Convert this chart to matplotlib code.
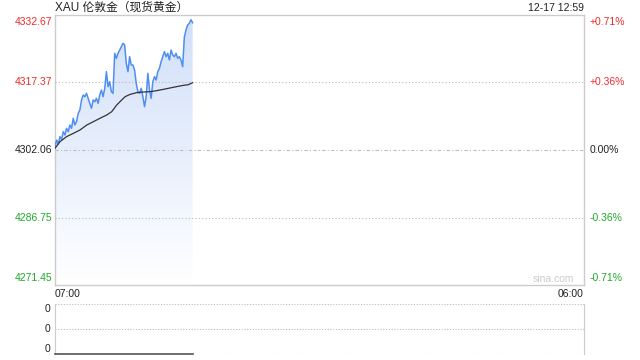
import matplotlib
matplotlib.use("Agg")
import matplotlib.pyplot as plt
import numpy as np
from matplotlib.colors import LinearSegmentedColormap
from matplotlib.transforms import blended_transform_factory

plt.rcParams['font.family'] = ['Liberation Sans', 'Noto Sans CJK SC', 'DejaVu Sans']

# --- data (minutes after 07:00) ---
prev_close = 4302.06
y_ticks = [4332.67, 4317.37, 4302.06, 4286.75, 4271.45]
pct_labels = ["+0.71%", "+0.36%", "0.00%", "-0.36%", "-0.71%"]
price = [
    4302.81, 4304.33, 4303.42, 4305.08, 4304.48, 4306.22, 4305.46, 4306.97,
    4306.22, 4307.73, 4306.97, 4309.24, 4307.73, 4308.48, 4310.37, 4311.13,
    4313.40, 4314.53, 4314.15, 4314.91, 4313.77, 4312.64, 4311.51, 4313.40,
    4313.02, 4313.77, 4312.64, 4314.53, 4315.66, 4314.15, 4316.04, 4319.82,
    4316.42, 4317.55, 4315.29, 4314.91, 4323.98, 4322.84, 4323.98, 4324.73,
    4325.49, 4326.25, 4325.87, 4321.71, 4319.82, 4323.22, 4321.33, 4321.33,
    4320.20, 4317.18, 4315.29, 4314.91, 4316.04, 4314.15, 4311.88, 4314.15,
    4319.44, 4315.66, 4313.77, 4317.55, 4318.69, 4317.93, 4319.82, 4320.58,
    4322.09, 4323.22, 4324.36, 4323.22, 4323.98, 4322.47, 4324.73, 4323.60,
    4323.22, 4323.98, 4322.84, 4323.22, 4322.47, 4320.95, 4327.60, 4329.27,
    4330.40, 4330.78, 4331.60, 4330.90,
]
price_t = np.linspace(0, 359, len(price))
avg_t = [0, 13, 30, 48, 65, 83, 100, 117, 135, 148, 161, 174, 183, 196,
         213, 230, 248, 265, 283, 300, 317, 335, 348, 359]
avg = [4302.44, 4303.95, 4305.08, 4305.84, 4306.59, 4307.73, 4308.48, 4309.24,
       4310.00, 4310.75, 4312.26, 4313.40, 4314.15, 4314.68, 4315.06, 4315.21,
       4315.29, 4315.51, 4315.82, 4316.12, 4316.42, 4316.72, 4316.87, 4317.33]
volume = np.zeros(len(price))
total_minutes = 1380

RED = "#ee2b2b"
GREEN = "#1ea82a"
BORDER = "#cccccc"

fig = plt.figure(figsize=(6.4, 3.6), dpi=100)
ax = fig.add_axes([55 / 640, 1 - 285 / 360, 529 / 640, 270 / 360])
vax = fig.add_axes([55 / 640, 1 - 354 / 360, 529 / 640, 50 / 360])

ymin, ymax = y_ticks[-1], y_ticks[0]
ax.set_xlim(0, total_minutes)
ax.set_ylim(ymin, ymax)
ax.set_xticks([])
ax.set_yticks([])
for s in ax.spines.values():
    s.set_color(BORDER)
    s.set_linewidth(1)

# gridlines (drawn over the fill)
for v in (y_ticks[1], y_ticks[3]):
    ax.axhline(v, color="#bbbbbb", lw=0.8, ls=(0, (1, 2)), zorder=3)
ax.axhline(prev_close, color="#bdbdbd", lw=0.8, ls=(0, (3, 2, 1, 2)), zorder=3)

# gradient fill under price
cmap = LinearSegmentedColormap.from_list("fade", ["#ffffff", "#d0dff9"])
grad = np.linspace(0, 1, 256).reshape(-1, 1)
im = ax.imshow(grad, cmap=cmap, aspect="auto", origin="lower",
               extent=[0, price_t[-1], ymin, ymax], zorder=2)
poly = ax.fill_between(price_t, price, ymin, color="none", lw=0)
im.set_clip_path(poly.get_paths()[0], transform=ax.transData)
ax.set_xlim(0, total_minutes)
ax.set_ylim(ymin, ymax)

ax.plot(price_t, price, color="#4f8ff2", lw=1.1, zorder=4)
ax.plot(avg_t, avg, color="#333333", lw=0.9, zorder=5)

# y labels
tr_l = blended_transform_factory(fig.transFigure, ax.transData)
colors = [RED, RED, "#222222", GREEN, GREEN]
for i, (v, lab, c) in enumerate(zip(y_ticks, pct_labels, colors)):
    va = "center"
    off = 0
    if i == 0:
        va, off = "top", -0.5
    elif i == len(y_ticks) - 1:
        va, off = "bottom", 0.5
    ax.text(52 / 640, v + off, f"{v:.2f}", transform=tr_l, ha="right", va=va,
            fontsize=7.5, color=c)
    ax.text(590 / 640, v + off, lab, transform=tr_l, ha="left", va=va,
            fontsize=7.5, color=c)

fig.text(55 / 640, 1 - 8 / 360, "XAU 伦敦金（现货黄金）", ha="left", va="center",
         fontsize=8.5, color="#222222")
fig.text(584 / 640, 1 - 8 / 360, "12-17 12:59", ha="right", va="center",
         fontsize=7.5, color="#222222")
fig.text(55 / 640, 1 - 294 / 360, "07:00", ha="left", va="center",
         fontsize=7.5, color="#222222")
fig.text(584 / 640, 1 - 294 / 360, "06:00", ha="right", va="center",
         fontsize=7.5, color="#222222")
fig.text(574 / 640, 1 - 279 / 360, "sina.com", ha="right", va="center",
         fontsize=7.5, color="#cccccc")

# volume panel
vax.set_xlim(0, total_minutes)
vax.set_ylim(0, 1)
vax.set_xticks([])
vax.set_yticks([])
for k in ("left", "right"):
    vax.spines[k].set_color(BORDER)
for k in ("top", "bottom"):
    vax.spines[k].set_visible(False)
for v in (0, 0.5, 1):
    vax.axhline(v, color="#bbbbbb", lw=0.8, ls=(0, (1, 1.5)), zorder=1)
vax.plot(price_t, volume, color="#555555", lw=1.2, zorder=3, clip_on=False)
tr_v = blended_transform_factory(fig.transFigure, vax.transData)
for v in (0.9, 0.5, 0.1):
    vax.text(50 / 640, v, "0", transform=tr_v, ha="right", va="center",
             fontsize=7.5, color="#222222")

fig.savefig("out.png", dpi=100)
